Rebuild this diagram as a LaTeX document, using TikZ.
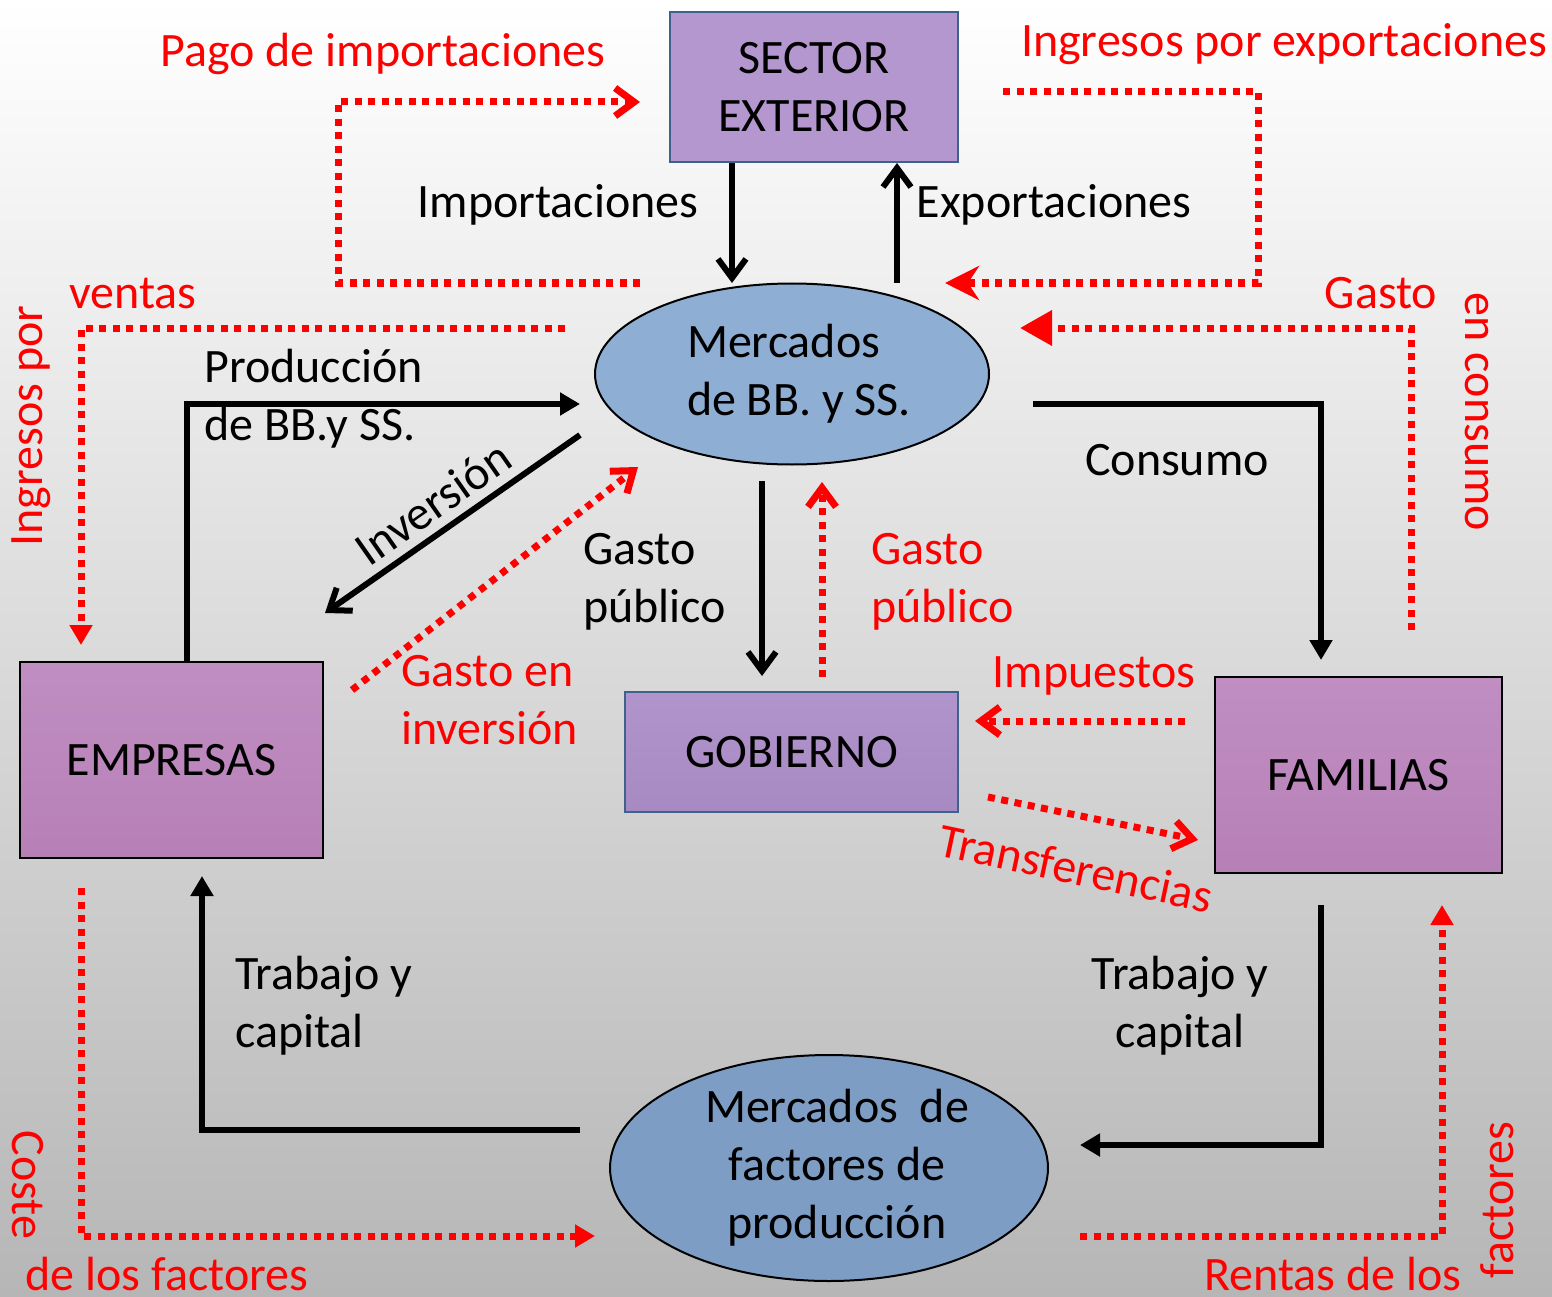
\documentclass[tikz,border=0pt]{standalone}
\usepackage{fontspec}
\setmainfont{Carlito}
\usetikzlibrary{arrows.meta,shapes.geometric}
\definecolor{secfill}{RGB}{180,151,206}
\definecolor{boxblue}{RGB}{62,98,140}
\definecolor{empTop}{RGB}{192,142,194}
\definecolor{empBot}{RGB}{182,128,182}
\definecolor{gobTop}{RGB}{178,148,204}
\definecolor{gobBot}{RGB}{168,138,194}
\definecolor{ellA}{RGB}{143,174,212}
\definecolor{ellB}{RGB}{125,157,196}
\definecolor{bgbot}{RGB}{182,182,182}
\definecolor{rojo}{RGB}{255,0,0}
\tikzset{
  bb/.tip={Straight Barb[length=19pt,width=28pt]},
  tt/.tip={Triangle[length=20pt,width=22pt]},
  ttbig/.tip={Triangle[length=32pt,width=34pt]},
  stl/.tip={Stealth[length=34pt,width=34pt,inset=11pt]},
  blk/.style={black,line width=6pt},
  dotred/.style={rojo,line width=7pt,dash pattern=on 7pt off 6.5pt},
  txt/.style={inner sep=0pt,font=\fontsize{48}{58}\selectfont},
  rtxt/.style={txt,text=rojo},
  sbox/.style={draw,line width=2pt,txt,align=center,inner sep=0pt},
  ell/.style={ellipse,draw=black,line width=2pt,txt,align=center,inner sep=0pt}
}
\begin{document}
\begin{tikzpicture}[x=1pt,y=-1pt]
\useasboundingbox (0,0) rectangle (1552,1297);
\shade[top color=white,bottom color=bgbot] (0,0) rectangle (1552,1297);

% main nodes
\node[sbox,draw=boxblue,fill=secfill,minimum width=288pt,minimum height=150pt] (sector) at (814,87) {SECTOR\\EXTERIOR};
\node[ell,fill=ellA,minimum width=394pt,minimum height=181pt,align=left] (mbs) at (792,374) {\hspace*{14pt}Mercados\\\hspace*{14pt}de BB. y SS.};
\node[sbox,draw=black,top color=empTop,bottom color=empBot,minimum width=303pt,minimum height=196pt] (empresas) at (171.5,760) {EMPRESAS};
\node[sbox,draw=boxblue,top color=gobTop,bottom color=gobBot,minimum width=333pt,minimum height=120pt] (gobierno) at (791.5,752) {GOBIERNO};
\node[sbox,draw=black,top color=empTop,bottom color=empBot,minimum width=287pt,minimum height=196pt] (familias) at (1358.5,775) {FAMILIAS};
\node[ell,fill=ellB,minimum width=438pt,minimum height=226pt] (mfp) at (829,1168) {\hspace*{16pt}Mercados~~de\\\hspace*{16pt}factores de\\\hspace*{16pt}producción};

% labels
\node[rtxt,anchor=base] (lpago) at (383,67) {Pago de importaciones};
\node[rtxt,anchor=base] (lingexp) at (1284,57) {Ingresos por exportaciones};
\node[txt,anchor=base] (limp) at (558,218) {Importaciones};
\node[txt,anchor=base] (lexp) at (1054,218) {Exportaciones};
\node[rtxt,anchor=base] (lventas) at (133,308) {ventas};
\node[rtxt,rotate=90] (lingpor) at (31,426) {Ingresos por};
\node[rtxt,anchor=base] (lgasto) at (1381,308) {Gasto};
\node[rtxt,rotate=-90] (lencons) at (1477,412) {en consumo};
\node[txt,anchor=base west,align=left] (lprod) at (204,440) {Producción\\de BB.y SS.};
\node[txt,rotate=35] (linv) at (433,503) {Inversión};
\node[txt,anchor=base] (lcons) at (1177,475) {Consumo};
\node[txt,anchor=base west,align=left] (lgp) at (583,622) {Gasto\\público};
\node[rtxt,anchor=base west,align=left] (lgpr) at (871,622) {Gasto\\público};
\node[rtxt,anchor=base west,align=left] (lginv) at (401,744) {Gasto en\\inversión};
\node[rtxt,anchor=base] (limpu) at (1094,687) {Impuestos};
\node[rtxt,rotate=-12] (ltransf) at (1076,868) {Transferencias};
\node[txt,anchor=base west,align=left] (ltrab1) at (235,1047) {Trabajo y\\capital};
\node[txt,anchor=base,align=center] (ltrab2) at (1180,1047) {Trabajo y\\capital};
\node[rtxt,rotate=-90] (lcoste) at (28,1185) {Coste};
\node[rtxt,anchor=base] (ldelos) at (167,1290) {de los factores};
\node[rtxt,anchor=base] (lrentas) at (1333,1290) {Rentas de los};
\node[rtxt,rotate=90] (lfact) at (1497,1200) {factores};

% coordinates
\coordinate (impE) at (732,283);
\coordinate (expS) at (897,283);
\coordinate (prodC) at (187,404);
\coordinate (prodE) at (580,404);
\coordinate (invS) at (580,435);
\coordinate (invE) at (325,613);
\coordinate (conS) at (1033,404);
\coordinate (conC) at (1321,404);
\coordinate (conE) at (1321,660);
\coordinate (gpS) at (762,481);
\coordinate (gpE) at (762,676);
\coordinate (tlS) at (580,1130);
\coordinate (tlC) at (202,1130);
\coordinate (tlE) at (202,876);
\coordinate (trS) at (1321,905);
\coordinate (trC) at (1321,1145);
\coordinate (trE) at (1080,1145);

% black flows
\draw[blk,-bb] (sector.south -| impE) -- (impE);
\draw[blk,-bb] (expS) -- (sector.south -| expS);
\draw[blk,-tt] (empresas.north -| prodC) -- (prodC) -- (prodE);
\draw[blk,-bb] (invS) -- (invE);
\draw[blk,-tt] (conS) -- (conC) -- (conE);
\draw[blk,-bb] (gpS) -- (gpE);
\draw[blk,-tt] (tlS) -- (tlC) -- (tlE);
\draw[blk,-tt] (trS) -- (trC) -- (trE);

% red coordinates
\coordinate (pa1) at (640,283);
\coordinate (pa2) at (338,283);
\coordinate (pa3) at (338,102);
\coordinate (pa4) at (640,102);
\coordinate (ie1) at (1003,92);
\coordinate (ie2) at (1258,92);
\coordinate (ie3) at (1258,283);
\coordinate (ie4) at (945,283);
\coordinate (iv1) at (565,328);
\coordinate (iv2) at (81,328);
\coordinate (iv3) at (81,645);
\coordinate (gc1) at (1411,630);
\coordinate (gc2) at (1411,328);
\coordinate (gc3) at (1020,328);
\coordinate (gi1) at (352,690);
\coordinate (gi2) at (638,467);
\coordinate (gr1) at (822,677);
\coordinate (gr2) at (822,482);
\coordinate (ip1) at (1185,721);
\coordinate (ip2) at (975,721);
\coordinate (tf1) at (988,797);
\coordinate (tf2) at (1198,840);
\coordinate (cf1) at (81,888);
\coordinate (cf2) at (81,1236);
\coordinate (cf3) at (595,1236);
\coordinate (rf1) at (1080,1236);
\coordinate (rf2) at (1442,1236);
\coordinate (rf3) at (1442,905);

% red flows
\draw[dotred,-bb] (pa1) -- (pa2) -- (pa3) -- (pa4);
\draw[dotred,-stl] (ie1) -- (ie2) -- (ie3) -- (ie4);
\draw[dotred,-tt] (iv1) -- (iv2) -- (iv3);
\draw[dotred,-ttbig] (gc1) -- (gc2) -- (gc3);
\draw[dotred,-bb] (gi1) -- (gi2);
\draw[dotred,-bb] (gr1) -- (gr2);
\draw[dotred,-bb] (ip1) -- (ip2);
\draw[dotred,-bb] (tf1) -- (tf2);
\draw[dotred,-tt] (cf1) -- (cf2) -- (cf3);
\draw[dotred,-tt] (rf1) -- (rf2) -- (rf3);
\end{tikzpicture}
\end{document}
